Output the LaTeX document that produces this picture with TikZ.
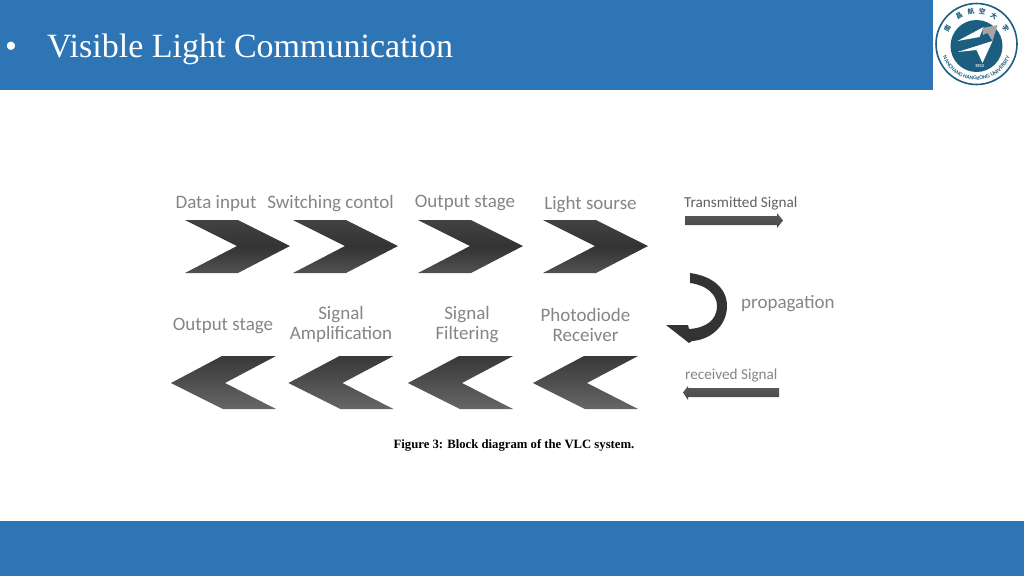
\documentclass[tikz,border=0pt]{standalone}
\usepackage{fontspec}
\setmainfont{Liberation Serif}
\newfontfamily\labelfont{Carlito}
\newfontfamily\logocjk{Noto Sans CJK SC}
\usetikzlibrary{decorations.text}
\definecolor{band}{HTML}{2E75B6}
\definecolor{logoblue}{HTML}{1B5E80}
\definecolor{lbl}{HTML}{858585}
\tikzset{
  lab/.style={font=\labelfont\fontsize{19}{20}\selectfont,text=lbl,align=center,inner sep=0pt},
  smalllab/.style={font=\labelfont\fontsize{15.2}{16}\selectfont,text=#1,inner sep=0pt},
  topchev/.style={top color=black!74,bottom color=black!68,middle color=black!80},
  botchev/.style={top color=black!78,bottom color=black!60},
  bar/.style={top color=black!65,bottom color=black!72},
  cjkmark/.style={font=\logocjk\bfseries\fontsize{6.5}{6.5}\selectfont,text=logoblue,inner sep=0pt}
}
\begin{document}
\begin{tikzpicture}[x=1pt,y=-1pt]
\useasboundingbox (0,0) rectangle (1024,576);
\fill[white] (0,0) rectangle (1024,576);
% bands
\fill[band] (0,0) rectangle (933,90);
\fill[band] (0,521) rectangle (1024,576);
\node[anchor=base west,text=white,inner sep=0pt,font=\fontsize{34}{40}\selectfont] (bullet) at (5,57.5) {•};
\node[anchor=base west,text=white,inner sep=0pt,font=\fontsize{34}{40}\selectfont] (title) at (47,57.5) {Visible Light Communication};
% top chevrons
\foreach \dx in {0,108,233,358}{
  \shade[topchev,shift={(\dx,0)}] (185,220)--(238,220)--(290,246)--(238,273)--(185,273)--(237,246)--cycle;
}
% bottom chevrons
\foreach \dx in {0,117.5,237,362}{
  \shade[botchev,shift={(\dx,0)}] (171,383)--(222,356)--(276,356)--(225,383)--(276,409)--(223,409)--cycle;
}
% top labels
\node[lab] (t1) at (216,203) {Data input};
\node[lab] (t2) at (330.5,204) {Switching contol};
\node[lab] (t3) at (465,203) {Output stage};
\node[lab] (t4) at (590.5,205) {Light sourse};
% bottom labels
\node[lab] (b1) at (223,325.5) {Output stage};
\node[lab] (b2) at (341,324.5) {Signal\\Amplification};
\node[lab] (b3) at (467,324.5) {Signal\\Filtering};
\node[lab] (b4) at (585.5,324.5) {Photodiode\\Receiver};
% side labels and arrows
\node[smalllab=black!62,anchor=west] (tx) at (684,203.5) {Transmitted Signal};
\shade[bar] (685,216)--(777,216)--(777,213)--(783,220.5)--(777,228)--(777,225)--(685,225)--cycle;
\node[smalllab=lbl,anchor=west] (rx) at (685,375.5) {received Signal};
\shade[bar] (779,388)--(688,388)--(688,386)--(683,392.5)--(688,400)--(688,397)--(779,397)--cycle;
\node[lab,anchor=west] (prop) at (741,303.5) {propagation};
\fill[black!80] (690,273) .. controls (712,276) and (727,288) .. (727,306)
  .. controls (727,326) and (710,340) .. (692,341) -- (689,343) -- (666,325) -- (688,325) -- (689,329)
  .. controls (706,328) and (717,320) .. (717,306)
  .. controls (717,294) and (706,285) .. (690,283) -- cycle;
\node[font=\bfseries\fontsize{12.7}{14}\selectfont,text=black,inner sep=0pt] (cap) at (514,445.5) {Figure 3: Block diagram of the VLC system.};
% logo
\begin{scope}[shift={(976.5,44)},x=1pt,y=1pt]
  \draw[logoblue,line width=1.6pt] (0,0) circle (40.5);
  \fill[logoblue] (0,-2) circle (26);
  \fill[white] (-19,3) -- (7,17) -- (3,7) -- cycle;
  \fill[black!35] (6,16) -- (21,19) -- (16,3) -- (11,11) -- (6,9) -- cycle;
  \fill[white] (-19,-8) -- (16,3) -- (6,-19) -- (0,-6) -- cycle;
  \node[font=\bfseries\fontsize{4.5}{5}\selectfont,text=white,inner sep=0pt] (year) at (3,-22) {1952};
  \path[decorate,decoration={text along path,text align=center,
      text={|\labelfont\bfseries\fontsize{5.6}{5.6}\selectfont\color{logoblue}|NANCHANG HANGKONG UNIVERSITY}}]
      (185:36) arc[start angle=185,end angle=355,radius=36];
  \foreach \ang/\ch in {152/南,122/昌,100/航,80/空,58/大,28/学}{
    \node[cjkmark,rotate=\ang-90] (c\ang) at (\ang:33) {\ch};
  }
\end{scope}
\end{tikzpicture}
\end{document}
